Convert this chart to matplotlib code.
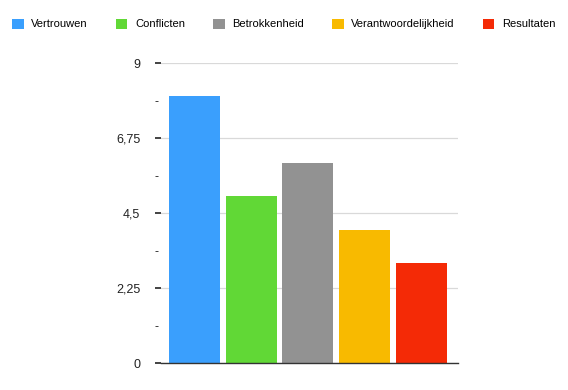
import numpy as np
from matplotlib import pyplot as plt
from matplotlib.patches import Patch

# Data
categories = ["Vertrouwen", "Conflicten", "Betrokkenheid", "Verantwoordelijkheid", "Resultaten"]
values = [8, 5, 6, 4, 3]
colours = ["#3A9FFD", "#61D836", "#929292", "#F8BA00", "#F42A06"]
major_ticks = [0, 2.25, 4.5, 6.75, 9]
major_labels = ["0", "2,25", "4,5", "6,75", "9"]
minor_ticks = [1.125, 3.375, 5.625, 7.875]

plt.rcParams["font.family"] = ["Liberation Sans", "DejaVu Sans"]

fig = plt.figure(figsize=(5.68, 3.9), dpi=100)
ax = fig.add_axes([161 / 568, 1 - 363 / 390, (458 - 161) / 568, 300 / 390])

x = np.arange(len(categories))
for xi, v, c in zip(x, values, colours):
    ax.bar(xi, v, width=0.9, color=c, zorder=2)

ax.set_xlim(-0.59, 4.65)
ax.set_ylim(0, 9)
ax.set_xticks([])

ax.set_yticks(major_ticks)
ax.set_yticklabels(major_labels)
ax.set_yticks(minor_ticks, minor=True)
ax.set_yticklabels(["-"] * len(minor_ticks), minor=True)
ax.tick_params(axis="y", which="major", length=4.5, width=1.2, color="#222222",
               pad=10.5, labelsize=9, labelcolor="#222222")
ax.tick_params(axis="y", which="minor", length=0, pad=2, labelsize=9, labelcolor="#222222")

ax.grid(axis="y", which="major", color="#d9d9d9", lw=0.9, zorder=0)
for side in ["top", "right", "left"]:
    ax.spines[side].set_visible(False)
ax.spines["bottom"].set_color("#333333")
ax.spines["bottom"].set_linewidth(1.0)
ax.spines["bottom"].set_zorder(3)

handles = [Patch(facecolor=c, edgecolor="none") for c in colours]
fig.legend(handles, categories, loc="center", bbox_to_anchor=(0.5, 1 - 24 / 390),
           ncol=5, frameon=False, fontsize=8, handlelength=1.0, handleheight=1.0,
           handletextpad=0.7, columnspacing=2.55, borderaxespad=0)

plt.savefig("out.png", dpi=100)
